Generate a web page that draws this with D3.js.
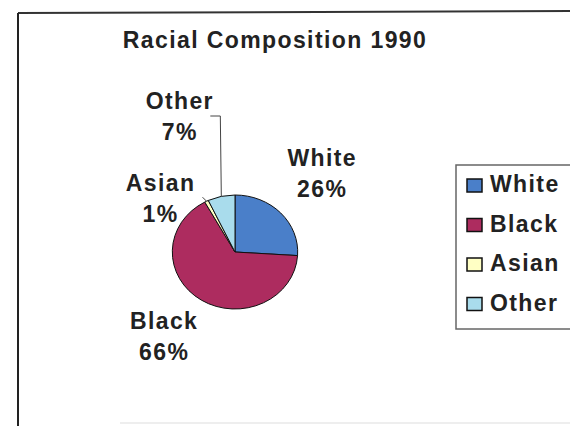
<!DOCTYPE html>
<html>
<head>
<meta charset="utf-8">
<script src="https://cdn.jsdelivr.net/npm/d3@7"></script>
<style>
  html, body { margin: 0; padding: 0; background: #fff; }
  svg { display: block; }
  text { font-family: "Liberation Sans", Arial, sans-serif; font-weight: bold; fill: #222; }
</style>
</head>
<body>
<svg id="chart" width="570" height="426"></svg>
<script>
// data
const categories = ["White", "Black", "Asian", "Other"];
const shares = [26, 66, 1, 7];
const colors = ["#4a7fc9", "#ad2c5f", "#ffffc4", "#a9dcec"];
const title = "Racial Composition 1990";

// layout bits (not data)
const W = 570, H = 426;
const cx = 235, cy = 252, r = 57, sx = 1.1;
const labelR = 105;
const fontSize = "23px", spacing = "1.4px";
// nudges so labels land where excel put them
const nudge = {
  White: [3, -4],
  Black: [-9, -2],
  Asian: [-22, 43],
  Other: [-30, -31]
};

const svg = d3.select("#chart");

// ! CHART FRAME
svg.append("line").attr("x1", 18).attr("y1", 13).attr("x2", W).attr("y2", 11)
  .attr("stroke", "#333").attr("stroke-width", 2);
svg.append("line").attr("x1", 18).attr("y1", 13).attr("x2", 18).attr("y2", H)
  .attr("stroke", "#222").attr("stroke-width", 2);
svg.append("line").attr("x1", 120).attr("y1", 423).attr("x2", W).attr("y2", 423)
  .attr("stroke", "#ddd").attr("stroke-width", 1);

// ! TITLE
svg.append("text")
  .attr("x", 275).attr("y", 48)
  .attr("text-anchor", "middle")
  .style("font-size", fontSize).style("letter-spacing", spacing)
  .text(title);

// ! PIE
const pie = d3.pie().sort(null).value(d => d.v);
const arcs = pie(categories.map((c, i) => ({ c, v: shares[i], col: colors[i] })));
const arc = d3.arc().innerRadius(0).outerRadius(r);

const g = svg.append("g").attr("transform", `translate(${cx},${cy})`);
g.append("g").attr("transform", `scale(${sx},1)`)
  .selectAll("path").data(arcs).join("path")
  .attr("d", arc)
  .attr("fill", d => d.data.col)
  .attr("stroke", "#111")
  .attr("stroke-width", 1)
  .attr("vector-effect", "non-scaling-stroke");

// point on the (stretched) rim at the slice middle
function rimPoint(d, rad) {
  const a = (d.startAngle + d.endAngle) / 2;
  return [Math.sin(a) * rad * sx, -Math.cos(a) * rad];
}

// ! LABELS
const labels = g.selectAll("g.lbl").data(arcs).join("g").attr("class", "lbl")
  .attr("transform", d => {
    const p = rimPoint(d, labelR);
    const n = nudge[d.data.c];
    return `translate(${p[0] + n[0]},${p[1] + n[1]})`;
  });
labels.append("text").attr("text-anchor", "middle").attr("y", -10)
  .style("font-size", fontSize).style("letter-spacing", spacing)
  .text(d => d.data.c);
labels.append("text").attr("text-anchor", "middle").attr("y", 21)
  .style("font-size", fontSize).style("letter-spacing", spacing)
  .text(d => d.data.v + "%");

// ! LEADER LINES (only the small slices get them)
arcs.filter(d => d.data.c === "Other" || d.data.c === "Asian").forEach(d => {
  const e = rimPoint(d, r);
  let pts;
  if (d.data.c === "Other") pts = [[e[0] - 11, -136], [e[0] - 1, -136], e];
  else pts = [[e[0] - 4, e[1] - 4], e];
  g.append("path").attr("d", d3.line()(pts))
    .attr("fill", "none").attr("stroke", "#444").attr("stroke-width", 1);
});

// ! LEGEND
const lg = svg.append("g").attr("transform", "translate(456,165)");
lg.append("rect").attr("x", 0).attr("y", 0).attr("width", 140).attr("height", 164)
  .attr("fill", "#fff").attr("stroke", "#666").attr("stroke-width", 1.5);
const item = lg.selectAll("g.it").data(arcs).join("g").attr("class", "it")
  .attr("transform", (d, i) => `translate(0,${26 + i * 39.5})`);
item.append("rect").attr("x", 11).attr("y", -12).attr("width", 15).attr("height", 13)
  .attr("fill", d => d.data.col).attr("stroke", "#111").attr("stroke-width", 1.5);
item.append("text").attr("x", 34).attr("y", 1)
  .style("font-size", fontSize).style("letter-spacing", spacing)
  .text(d => d.data.c);
</script>
</body>
</html>
